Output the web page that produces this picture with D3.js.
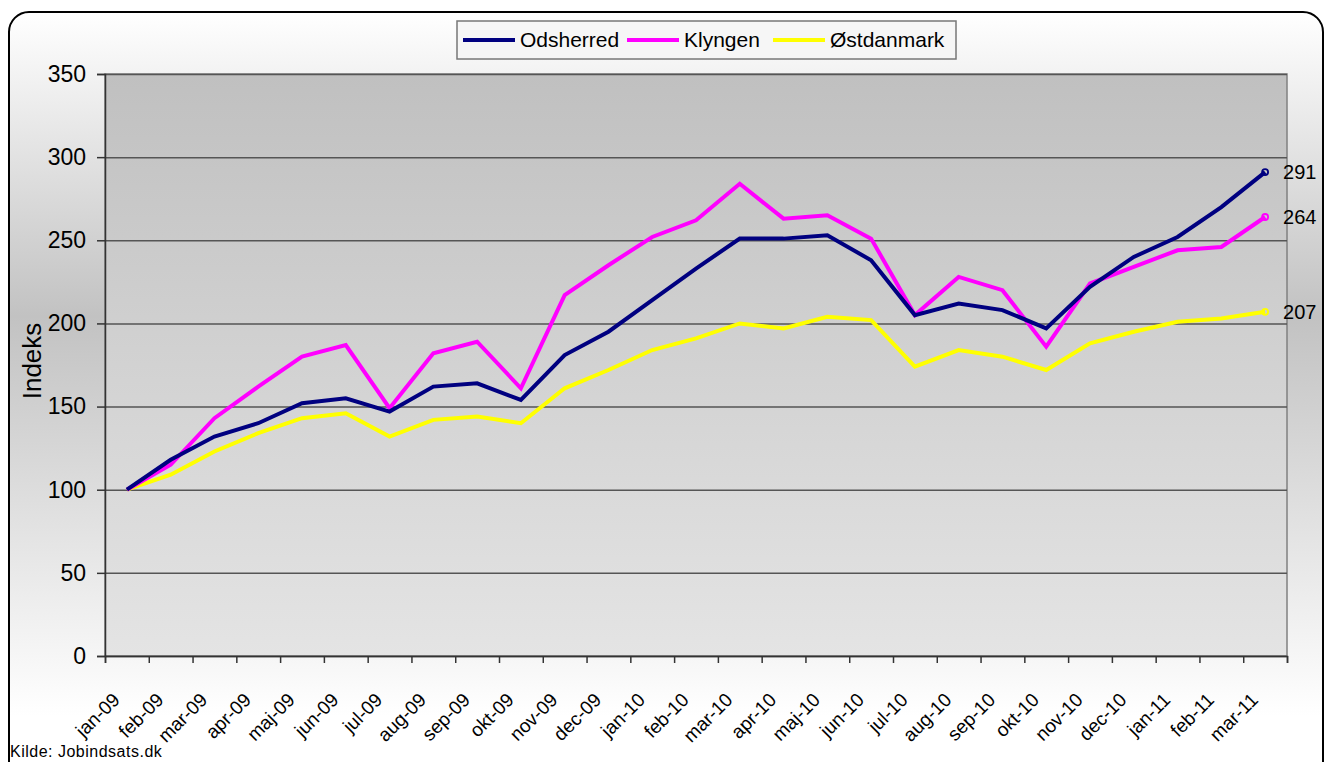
<!DOCTYPE html>
<html>
<head>
<meta charset="utf-8">
<script src="https://cdn.jsdelivr.net/npm/d3@7"></script>
<style>
  body { margin: 0; background: #fff; }
  svg { display: block; font-family: "Liberation Sans", Arial, sans-serif; }
</style>
</head>
<body>
<svg id="chart" width="1325" height="762"></svg>
<script>
const months = ["jan-09","feb-09","mar-09","apr-09","maj-09","jun-09","jul-09","aug-09","sep-09","okt-09","nov-09","dec-09",
  "jan-10","feb-10","mar-10","apr-10","maj-10","jun-10","jul-10","aug-10","sep-10","okt-10","nov-10","dec-10",
  "jan-11","feb-11","mar-11"];
const odsherred = [100,118,132,140,152,155,147,162,164,154,181,195,214,233,251,251,253,238,205,212,208,197,222,240,252,270,291];
const klyngen = [100,115,143,162,180,187,149,182,189,161,217,235,252,262,284,263,265,251,205,228,220,186,224,234,244,246,264];
const ostdanmark = [100,109,123,134,143,146,132,142,144,140,161,172,184,191,200,197,204,202,174,184,180,172,188,195,201,203,207];
const yTicks = [0,50,100,150,200,250,300,350];

const seriesNames = ["Odsherred","Klyngen","Østdanmark"];
const seriesColors = ["#000080","#ff00ff","#ffff00"];

window.addEventListener('load', () => {
    draw()
})

function draw() {
    const svg = d3.select("#chart");
    const margin = {top: 74, right: 38, bottom: 106, left: 105};
    const width = +svg.attr("width") - margin.left - margin.right;
    const height = +svg.attr("height") - margin.top - margin.bottom;

    const defs = svg.append("defs");
    const outerGrad = defs.append("linearGradient").attr("id", "outerGrad")
        .attr("x1", 0).attr("y1", 0).attr("x2", 0).attr("y2", 1);
    outerGrad.append("stop").attr("offset", "0%").attr("stop-color", "#ffffff");
    outerGrad.append("stop").attr("offset", "38%").attr("stop-color", "#c2c2c2");
    outerGrad.append("stop").attr("offset", "88%").attr("stop-color", "#ffffff");
    const plotGrad = defs.append("linearGradient").attr("id", "plotGrad")
        .attr("x1", 0).attr("y1", 0).attr("x2", 0).attr("y2", 1);
    plotGrad.append("stop").attr("offset", "0%").attr("stop-color", "#c0c0c0");
    plotGrad.append("stop").attr("offset", "100%").attr("stop-color", "#e4e4e4");

    // outer chart frame
    svg.append("rect")
        .attr("x", 9).attr("y", 12).attr("width", 1314).attr("height", 800)
        .attr("rx", 20).attr("ry", 20)
        .attr("fill", "url(#outerGrad)")
        .attr("stroke", "#000").attr("stroke-width", 2);

    const g = svg.append("g").attr("transform", "translate(" + margin.left + "," + margin.top + ")");

    const x = d3.scaleBand().domain(months).range([0, width]).padding(0);
    const xEdge = d3.scaleLinear().domain([0, months.length]).range([0, width]);
    const y = d3.scaleLinear().domain([0, 350]).range([height, 0]);

    g.append("rect")
        .attr("width", width).attr("height", height)
        .attr("fill", "url(#plotGrad)")
        .attr("stroke", "#808080").attr("stroke-width", 1.5);

    // gridlines
    g.append("g")
        .attr("class", "grid")
        .call(d3.axisLeft(y).tickValues(yTicks).tickSize(-width).tickFormat(""))
        .call(s => s.select(".domain").remove())
        .call(s => s.selectAll("line").attr("stroke", "#555").attr("stroke-width", 1.5));

    // y axis
    g.append("g")
        .attr("class", "axis axis--y")
        .call(d3.axisLeft(y).tickValues(yTicks).tickSize(8).tickPadding(11))
        .call(s => s.select(".domain").attr("stroke", "#333").attr("stroke-width", 1.5))
        .call(s => s.selectAll("line").attr("stroke", "#333").attr("stroke-width", 1.5))
        .call(s => s.selectAll("text").attr("font-size", "23px").attr("fill", "#000")
            .attr("font-family", "Liberation Sans, Arial, sans-serif"));

    // x axis with ticks between categories
    g.append("g")
        .attr("class", "axis axis--x")
        .attr("transform", "translate(0," + height + ")")
        .call(d3.axisBottom(xEdge).tickValues(d3.range(months.length + 1)).tickSize(7).tickFormat(""))
        .call(s => s.select(".domain").attr("stroke", "#333").attr("stroke-width", 1.5))
        .call(s => s.selectAll("line").attr("stroke", "#333").attr("stroke-width", 1.5));

    g.append("g")
        .selectAll("text")
        .data(months)
        .enter().append("text")
        .attr("transform", d => "translate(" + (x(d) + x.bandwidth() / 2 - 6) + "," + (height + 45) + ") rotate(-45)")
        .attr("text-anchor", "end")
        .attr("font-size", "19px")
        .text(d => d);

    svg.append("text")
        .attr("transform", "translate(41," + (margin.top + height / 2 - 4) + ") rotate(-90)")
        .attr("text-anchor", "middle")
        .attr("font-size", "26px")
        .text("Indeks");

    const sources = seriesNames.map((name, i) => ({
        id: name,
        color: seriesColors[i],
        values: [odsherred, klyngen, ostdanmark][i]
    }));

    const line = d3.line()
        .x((d, i) => x(months[i]) + x.bandwidth() / 2)
        .y(d => y(d));

    const source = g.selectAll(".series")
        .data(sources.slice().reverse())
        .enter().append("g")
        .attr("class", "series");

    source.append("path")
        .attr("d", d => line(d.values))
        .attr("fill", "none")
        .attr("stroke", d => d.color)
        .attr("stroke-width", 4)
        .attr("stroke-linejoin", "miter");

    const last = months.length - 1;
    source.append("circle")
        .attr("cx", x(months[last]) + x.bandwidth() / 2)
        .attr("cy", d => y(d.values[last]))
        .attr("r", 3)
        .attr("fill", "none")
        .attr("stroke", d => d.color)
        .attr("stroke-width", 1.8);

    source.append("text")
        .attr("x", x(months[last]) + x.bandwidth() / 2 + 18)
        .attr("y", d => y(d.values[last]))
        .attr("dy", "0.35em")
        .attr("font-size", "20px")
        .text(d => d.values[last]);

    // legend
    const legend = svg.append("g").attr("transform", "translate(457,21)");
    legend.append("rect")
        .attr("width", 499).attr("height", 38)
        .attr("fill", "#f6f6f6")
        .attr("stroke", "#777").attr("stroke-width", 1.5);
    const legendX = [6, 170, 316];
    const item = legend.selectAll(".item")
        .data(sources)
        .enter().append("g")
        .attr("class", "item")
        .attr("transform", (d, i) => "translate(" + legendX[i] + ",0)");
    item.append("line")
        .attr("x1", 0).attr("x2", 52)
        .attr("y1", 19).attr("y2", 19)
        .attr("stroke", d => d.color).attr("stroke-width", 4);
    item.append("text")
        .attr("x", 57).attr("y", 19).attr("dy", "0.35em")
        .attr("font-size", "21px")
        .text(d => d.id);

    svg.append("text")
        .attr("x", 10).attr("y", 757)
        .attr("font-size", "16px")
        .attr("letter-spacing", "0.5px")
        .text("Kilde: Jobindsats.dk");
}
</script>
</body>
</html>
